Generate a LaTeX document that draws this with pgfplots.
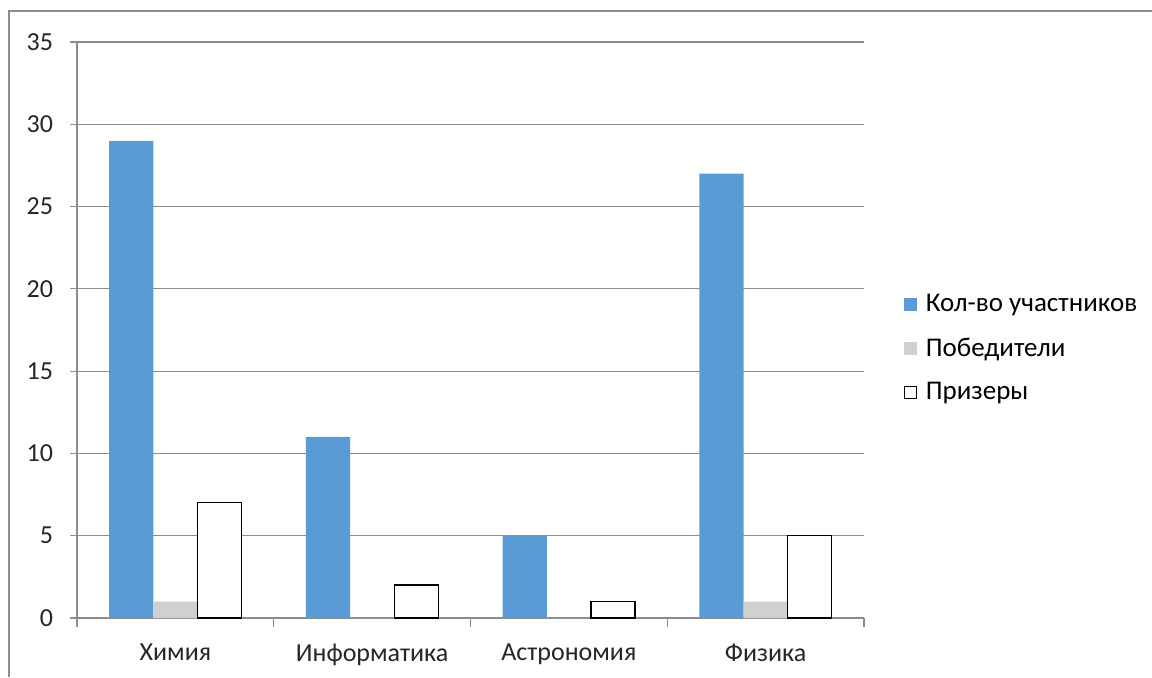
\documentclass[border=0pt]{standalone}
\usepackage{fontspec}
\setmainfont{Carlito}
\usepackage{pgfplots}
\pgfplotsset{compat=1.18}
\definecolor{cblue}{HTML}{5B9BD5}
\definecolor{cgrey}{HTML}{D0D0D0}
\definecolor{gridc}{HTML}{8C8C8C}
\begin{document}
\begin{tikzpicture}[x=1pt,y=1pt]
\useasboundingbox (-38.5,-29.5) rectangle (537.5,309);
\draw[gridc,line width=0.8pt] (-34,-29.5) -- (-34,303.5) -- (537.5,303.5);
\begin{axis}[
  scale only axis, width=393.5pt, height=288pt,
  ybar=0pt, bar width=0.2242,
  xmin=-0.5, xmax=3.5, ymin=0, ymax=35,
  xtick={0,1,2,3},
  xticklabels={Химия,Информатика,Астрономия,Физика},
  minor xtick={-0.5,0.5,1.5,2.5,3.5},
  ytick={0,5,10,15,20,25,30,35},
  ymajorgrids, grid style={gridc,line width=0.6pt},
  axis x line*=bottom, axis y line*=left,
  axis line style={gridc,line width=0.6pt},
  x axis line style={-}, y axis line style={-},
  major x tick style={draw=none},
  minor x tick style={gridc,line width=0.6pt},
  minor tick length=4.5pt,
  major y tick style={gridc,line width=0.6pt},
  major tick length=3.5pt,
  xtick align=outside, ytick align=outside,
  tick label style={font=\fontsize{13}{15}\selectfont, text=black!85},
  xticklabel style={yshift=-6pt},
  yticklabel style={xshift=-5pt},
  /pgf/number format/assume math mode=true,
  legend style={at={(rel axis cs:1.043,0.468)}, anchor=west, draw=none,
    font=\fontsize{13.5}{15}\selectfont, row sep=7.5pt, fill=none},
  legend cell align=left,
]
\addplot[fill=cblue, draw=none,
  legend image code/.code={\fill[cblue] (0pt,-3.2pt) rectangle (6.4pt,3.2pt); \path (8.5pt,0pt);}]
  coordinates {(0,29) (1,11) (2,5) (3,27)};
\addlegendentry{Кол-во участников}
\addplot[fill=cgrey, draw=none,
  legend image code/.code={\fill[cgrey] (0pt,-3.2pt) rectangle (6.4pt,3.2pt); \path (8.5pt,0pt);}]
  coordinates {(0,1) (1,0) (2,0) (3,1)};
\addlegendentry{Победители}
\addplot[fill=white, draw=black, line width=0.6pt,
  legend image code/.code={\draw[black,line width=0.5pt,fill=white] (0.3pt,-2.9pt) rectangle (6.1pt,2.9pt); \path (8.5pt,0pt);}]
  coordinates {(0,7) (1,2) (2,1) (3,5)};
\addlegendentry{Призеры}
\end{axis}
\end{tikzpicture}
\end{document}
